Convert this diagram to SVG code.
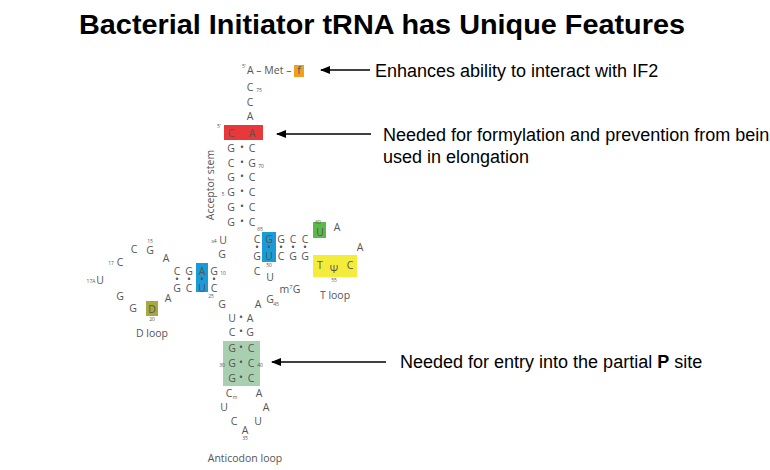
<svg xmlns="http://www.w3.org/2000/svg" width="770" height="470" viewBox="0 0 770 470">
<defs>
<marker id="ah" viewBox="0 0 10 10" refX="9" refY="5" markerWidth="8" markerHeight="8" orient="auto"><path d="M0,1 L10,5 L0,9 z" fill="#000"/></marker>
<style>
.n{font-family:"Open Sans","Liberation Sans",sans-serif;font-size:10.5px;fill:#555;text-anchor:middle}
.s{font-family:"Open Sans","Liberation Sans",sans-serif;font-size:5px;fill:#555;text-anchor:middle}
.l{font-family:"Open Sans","Liberation Sans",sans-serif;font-size:10.5px;fill:#555;text-anchor:middle}
.t{font-family:"Liberation Sans",Arial,sans-serif;font-size:18px;fill:#000}
.c{stroke:#000;stroke-width:1.3;marker-end:url(#ah)}
</style>
</defs>
<rect width="770" height="470" fill="#fff"/>
<text x="382" y="34" text-anchor="middle" font-family="Liberation Sans,Arial,sans-serif" font-weight="bold" font-size="28" textLength="606" lengthAdjust="spacingAndGlyphs">Bacterial Initiator tRNA has Unique Features</text>
<g id="highlights">
<rect x="294" y="65" width="10" height="12" fill="#f0a020"/>
<rect x="224" y="125" width="39" height="15" fill="#e8383a"/>
<rect x="262" y="232" width="14" height="30" fill="#1a9ad6"/>
<rect x="313" y="222" width="13" height="16" fill="#5cb84a"/>
<rect x="313" y="255" width="44" height="22" fill="#f4ec3a"/>
<rect x="196" y="263" width="12" height="29" fill="#1a9ad6"/>
<rect x="146" y="301" width="12" height="15" fill="#a8a840"/>
<rect x="223" y="341" width="37" height="45" fill="#a8d0b0"/>
</g>
<g id="acceptor">
<text class="s" x="244" y="68">5'</text><text class="n" x="247" y="74" style="text-anchor:start">A – Met –</text><text class="n" x="299" y="74">f</text>
<text class="n" x="250" y="91">C</text><text class="s" x="259" y="92">75</text>
<text class="n" x="250" y="106">C</text>
<text class="n" x="250" y="120">A</text>
<text class="s" x="219" y="128">5'</text>
<text class="n" x="231" y="137">C</text><text class="n" x="252" y="137">A</text>
<text class="n" x="231" y="152">G</text><text class="n" x="242" y="151">•</text><text class="n" x="252" y="152">C</text>
<text class="n" x="231" y="167">C</text><text class="n" x="242" y="166">•</text><text class="n" x="252" y="167">G</text><text class="s" x="261" y="168">70</text>
<text class="n" x="231" y="181">G</text><text class="n" x="242" y="180">•</text><text class="n" x="252" y="181">C</text>
<text class="s" x="223" y="196">5</text><text class="n" x="231" y="196">G</text><text class="n" x="242" y="195">•</text><text class="n" x="252" y="196">C</text>
<text class="n" x="231" y="211">G</text><text class="n" x="242" y="210">•</text><text class="n" x="252" y="211">C</text>
<text class="n" x="231" y="226">G</text><text class="n" x="242" y="225">•</text><text class="n" x="252" y="226">C</text><text class="s" x="260" y="231">65</text>
<text class="l" transform="translate(214,185) rotate(-90)">Acceptor stem</text>
</g>
<g id="tarm">
<text class="s" x="214" y="243">s4</text><text class="n" x="223" y="244">U</text>
<text class="n" x="257" y="243">C</text><text class="n" x="269" y="243">G</text><text class="n" x="281" y="243">G</text><text class="n" x="293" y="243">C</text><text class="n" x="305" y="243">C</text>
<text class="n" x="257" y="251">•</text><text class="n" x="269" y="251" fill="#000">•</text><text class="n" x="281" y="251">•</text><text class="n" x="293" y="251">•</text><text class="n" x="305" y="251">•</text>
<text class="n" x="257" y="260">G</text><text class="n" x="269" y="260">U</text><text class="n" x="281" y="260">C</text><text class="n" x="293" y="260">G</text><text class="n" x="305" y="260">G</text>
<text class="s" x="269" y="267">50</text>
<text class="s" x="318" y="224">60</text><text class="n" x="320" y="236">U</text>
<text class="n" x="337" y="231">A</text><text class="n" x="360" y="251">A</text>
<text class="n" x="320" y="269">T</text><text class="n" x="334" y="273">Ψ</text><text class="n" x="350" y="269">C</text><text class="s" x="334" y="282">55</text>
<text class="l" x="335" y="299">T loop</text>
</g>
<g id="core">
<text class="n" x="222" y="258">G</text>
<text class="n" x="257" y="275">C</text><text class="n" x="270" y="281">U</text>
<text class="n" x="290" y="293">m<tspan font-size="6" dy="-4">7</tspan><tspan dy="4">G</tspan></text>
<text class="n" x="270" y="303">G</text><text class="s" x="276" y="306">45</text>
<text class="n" x="258" y="308">A</text>
<text class="n" x="222" y="308">G</text>
</g>
<g id="darm">
<text class="n" x="177" y="275">C</text><text class="n" x="189" y="275">G</text><text class="n" x="202" y="275">A</text><text class="n" x="214" y="275">G</text><text class="s" x="223" y="275">10</text>
<text class="n" x="177" y="283">•</text><text class="n" x="189" y="283">•</text><text class="n" x="202" y="283" fill="#000">•</text><text class="n" x="214" y="283">•</text>
<text class="n" x="177" y="292">G</text><text class="n" x="189" y="292">C</text><text class="n" x="202" y="292">U</text><text class="n" x="214" y="292">C</text>
<text class="s" x="211" y="298">25</text>
<text class="n" x="168" y="302">A</text>
<text class="s" x="150" y="243">15</text><text class="n" x="150" y="254">G</text>
<text class="n" x="134" y="253">C</text><text class="n" x="166" y="262">A</text>
<text class="s" x="111" y="265">17</text><text class="n" x="120" y="266">C</text>
<text class="s" x="91" y="283">17A</text><text class="n" x="100" y="284">U</text>
<text class="n" x="120" y="300">G</text><text class="n" x="133" y="312">G</text>
<text class="n" x="152" y="313">D</text><text class="s" x="152" y="321">20</text>
<text class="l" x="152" y="337">D loop</text>
</g>
<g id="anticodon">
<text class="n" x="232" y="322">U</text><text class="n" x="241" y="321">•</text><text class="n" x="250" y="322">A</text>
<text class="n" x="232" y="336">C</text><text class="n" x="241" y="335">•</text><text class="n" x="250" y="336">G</text>
<text class="n" x="232" y="352">G</text><text class="n" x="241" y="351">•</text><text class="n" x="251" y="352">C</text>
<text class="s" x="222" y="367">30</text><text class="n" x="232" y="367">G</text><text class="n" x="241" y="366">•</text><text class="n" x="251" y="367">C</text><text class="s" x="260" y="367">40</text>
<text class="n" x="232" y="382">G</text><text class="n" x="241" y="381">•</text><text class="n" x="251" y="382">C</text>
<text class="n" x="229" y="397">C</text><text class="s" x="235" y="399">m</text>
<text class="n" x="259" y="397">A</text>
<text class="n" x="224" y="411">U</text><text class="n" x="266" y="411">A</text>
<text class="n" x="234" y="425">C</text><text class="n" x="258" y="425">U</text>
<text class="n" x="245" y="434">A</text><text class="s" x="245" y="440">35</text>
<text class="l" x="245" y="462">Anticodon loop</text>
</g>
<g id="connectors">
<line class="c" x1="370" y1="70" x2="321" y2="70"/>
<line class="c" x1="371" y1="134" x2="277" y2="134"/>
<line class="c" x1="386" y1="362" x2="272" y2="362"/>
</g>
<g id="labels">
<text class="t" x="375" y="77">Enhances ability to interact with IF2</text>
<text class="t" x="383" y="141">Needed for formylation and prevention from bein</text>
<text class="t" x="383" y="163">used in elongation</text>
<text class="t" x="400" y="368">Needed for entry into the partial <tspan font-weight="bold">P</tspan> site</text>
</g>
</svg>
